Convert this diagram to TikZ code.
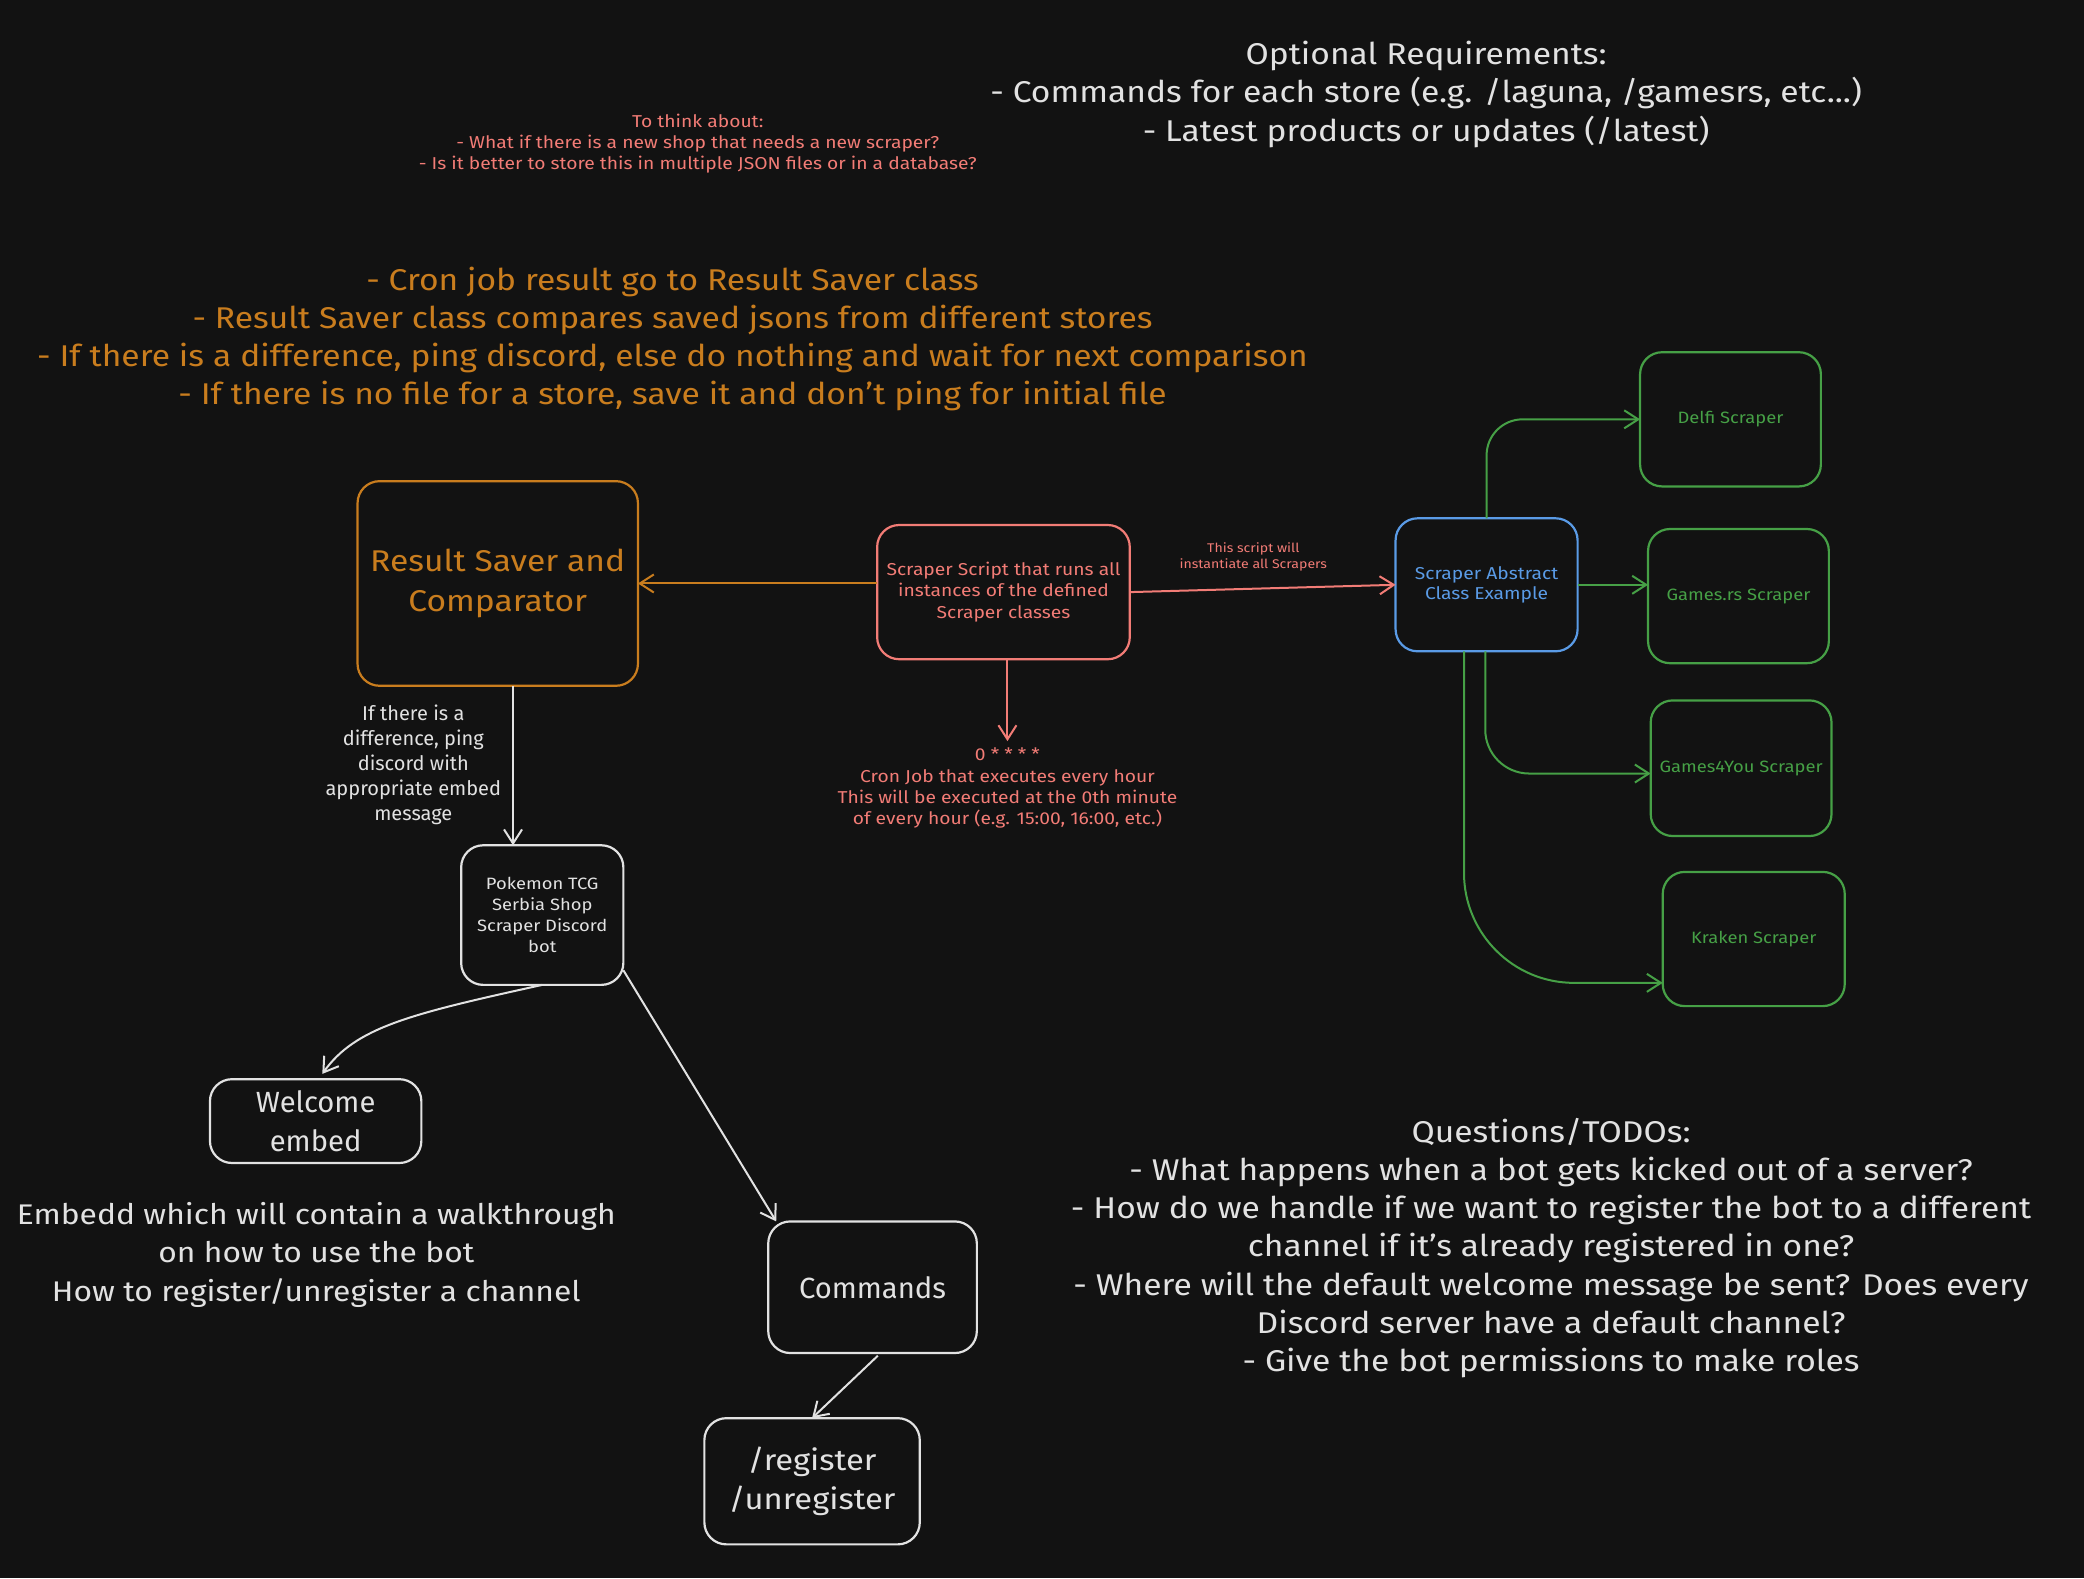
\documentclass[tikz,border=0pt]{standalone}
\usepackage{fontspec}
\setmainfont{Fira Sans}[FakeStretch=1.12]
\newfontfamily\plainf{Fira Sans}
\usetikzlibrary{arrows.meta,calc}
\definecolor{bg}{HTML}{121212}
\definecolor{wht}{HTML}{E2E2E2}
\definecolor{org}{HTML}{C97D1E}
\definecolor{sal}{HTML}{F27C76}
\definecolor{blu}{HTML}{5A9BE6}
\definecolor{grn}{HTML}{46A046}
\newcommand\fbig{\fontsize{15pt}{19.1pt}\selectfont}
\newcommand\fboxbig{\fontsize{14.6pt}{19.3pt}\selectfont}
\newcommand\fembed{\fontsize{14.2pt}{19.3pt}\selectfont}
\newcommand\fplainbig{\plainf\fontsize{14.6pt}{19.3pt}\selectfont}
\newcommand\fnodebig{\fontsize{15pt}{20pt}\selectfont}
\newcommand\fsmall{\fontsize{8.6pt}{10.6pt}\selectfont}
\newcommand\fgreen{\fontsize{8.2pt}{10.6pt}\selectfont}
\newcommand\ftiny{\fontsize{6.3pt}{8pt}\selectfont}
\newcommand\fabs{\fontsize{8.6pt}{10pt}\selectfont}
\newcommand\flabel{\plainf\fontsize{10pt}{12.6pt}\selectfont}
\begin{document}
\begin{tikzpicture}[x=0.6645pt,y=-0.6645pt,
  box/.style={draw, rounded corners=11pt, line width=1.1pt, inner sep=0pt, outer sep=0pt, align=center},
  arr/.style={line width=1pt, -{Straight Barb[length=7pt,width=9pt,line width=1pt]}},
  txt/.style={align=center, inner sep=0pt}]
\fill[bg] (0,0) rectangle (1568,1187.3);
\useasboundingbox (0,0) rectangle (1568,1187.3);

% free texts
\node[txt, text=wht, font=\fbig] (opt) at (1073,71) {Optional Requirements:\\- Commands for each store (e.g. /laguna, /gamesrs, etc...)\\- Latest products or updates (/latest)};
\node[txt, text=sal, font=\fsmall] (think) at (525,108) {To think about:\\- What if there is a new shop that needs a new scraper?\\- Is it better to store this in multiple JSON files or in a database?};
\node[txt, text=org, font=\fbig] (notes) at (506,255) {- Cron job result go to Result Saver class\\- Result Saver class compares saved jsons from different stores\\- If there is a difference, ping discord, else do nothing and wait for next comparison\\- If there is no file for a store, save it and don't ping for initial file};
\node[txt, text=wht, font=\fembed] (embtxt) at (238,944) {Embedd which will contain a walkthrough\\on how to use the bot\\How to register/unregister a channel};
\node[txt, text=wht, font=\fbig] (quest) at (1167,939) {Questions/TODOs:\\- What happens when a bot gets kicked out of a server?\\- How do we handle if we want to register the bot to a different\\channel if it's already registered in one?\\- Where will the default welcome message be sent? Does every\\Discord server have a default channel?\\- Give the bot permissions to make roles};

% boxes
\node[box, draw=org, text=org, font=\fnodebig, minimum width=140.2pt, minimum height=102.3pt] (saver) at (374.5,439) {Result Saver and\\Comparator};
\node[box, draw=sal, text=sal, font=\fsmall, minimum width=126.3pt, minimum height=67.1pt] (script) at (755,445.5) {Scraper Script that runs all\\instances of the defined\\Scraper classes};
\node[box, draw=blu, text=blu, font=\fabs, minimum width=91pt, minimum height=66.5pt] (abs) at (1118.5,440) {Scraper Abstract\\Class Example};
\node[box, draw=grn, text=grn, font=\fgreen, minimum width=90.4pt, minimum height=67.1pt] (delfi) at (1302,315.5) {Delfi Scraper};
\node[box, draw=grn, text=grn, font=\fgreen, minimum width=90.4pt, minimum height=67.1pt] (gamesrs) at (1308,448.5) {Games.rs Scraper};
\node[box, draw=grn, text=grn, font=\fgreen, minimum width=90.4pt, minimum height=67.8pt] (gfy) at (1310,578) {Games4You Scraper};
\node[box, draw=grn, text=grn, font=\fgreen, minimum width=91pt, minimum height=67.1pt] (kraken) at (1319.5,706.5) {Kraken Scraper};
\node[box, draw=wht, text=wht, font=\fgreen, minimum width=81.1pt, minimum height=69.8pt] (pok) at (408,688.5) {Pokemon TCG\\Serbia Shop\\Scraper Discord\\bot};
\node[box, draw=wht, text=wht, font=\fplainbig, minimum width=105.7pt, minimum height=41.9pt] (wel) at (237.5,843.5) {Welcome\\embed};
\node[box, draw=wht, text=wht, font=\fplainbig, minimum width=104.3pt, minimum height=65.8pt] (cmd) at (656.5,968.5) {Commands};
\node[box, draw=wht, text=wht, font=\fboxbig, minimum width=107.7pt, minimum height=63.1pt] (reg) at (611,1114.5) {/register\\/unregister};

% labels
\node[txt, text=sal, font=\ftiny] (instlbl) at (943,419) {This script will\\instantiate all Scrapers};
\node[txt, text=sal, font=\fsmall] (cron) at (758,593) {0 * * * *\\Cron Job that executes every hour\\This will be executed at the 0th minute\\of every hour (e.g. 15:00, 16:00, etc.)};
\node[txt, text=wht, font=\flabel] (difflbl) at (311,575.5) {If there is a\\difference, ping\\discord with\\appropriate embed\\message};

% connectors
\draw[arr, draw=org] (script.west |- saver.east) -- (saver.east);
\draw[arr, draw=sal] (script.east) -- (abs.west);
\draw[arr, draw=sal] ($(script.south)+(3,0)$) coordinate (cs) -- ($(cs |- cron.north)+(0,-5)$);
\draw[arr, draw=grn, rounded corners=18pt] (abs.north) |- (delfi.west);
\draw[arr, draw=grn] (abs.east) -- (abs.east -| gamesrs.west);
\draw[arr, draw=grn, rounded corners=22pt] ($(abs.south)+(-1,0)$) |- ($(gfy.west)+(0,4)$);
\draw[arr, draw=grn, rounded corners=55pt] ($(abs.south)+(-17,0)$) |- ($(kraken.west)+(0,33)$);
\draw[arr, draw=wht] ($(saver.south)+(11.5,0)$) coordinate (ss) -- (ss |- pok.north);
\draw[arr, draw=wht] (pok.south) .. controls +(-100,22) and +(25,-35) .. ($(wel.north)+(5,-4)$);
\draw[arr, draw=wht] ($(pok.south east)+(0,-11)$) -- ($(cmd.north west)+(6,0)$);
\draw[arr, draw=wht] ($(cmd.south)+(4,2)$) -- (reg.north);
\end{tikzpicture}
\end{document}
